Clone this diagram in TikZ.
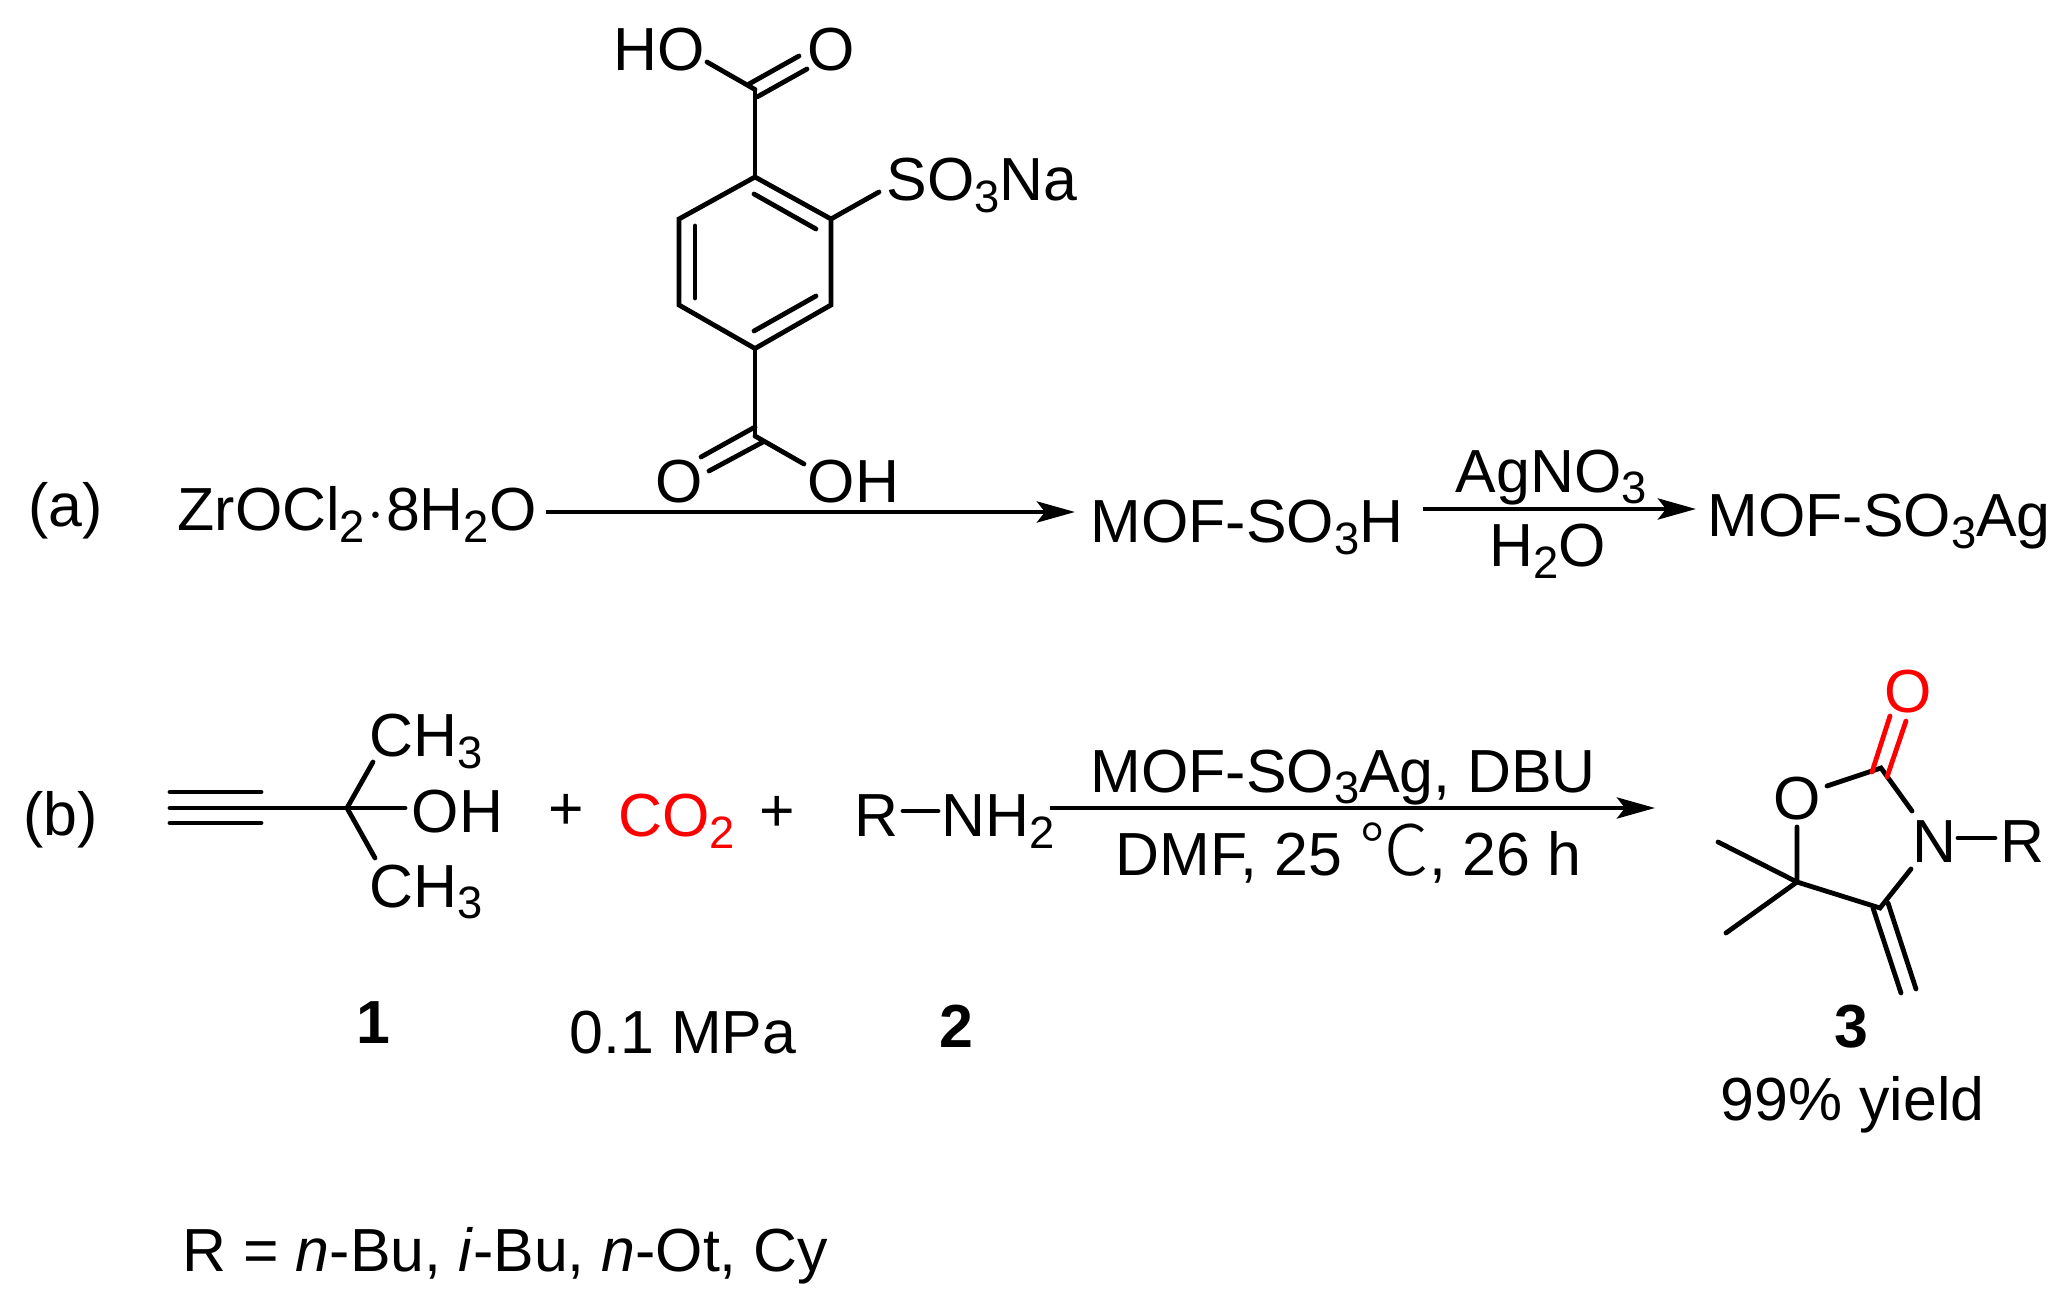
\documentclass[tikz,border=0pt]{standalone}
\usepackage{fontspec}
\setmainfont{Liberation Sans}
\newfontfamily\cjk[Scale=1.15]{Noto Sans CJK SC Light}
\usetikzlibrary{arrows.meta}
\newcommand{\low}[1]{\raisebox{-0.11cm}{\fontsize{12.9}{14}\selectfont #1}}
\tikzset{
	txt/.style={inner sep=0, font=\fontsize{17.3}{20}\selectfont},
	lab/.style={txt, anchor=base west, xshift=-0.03cm},
	labc/.style={txt, anchor=base},
	numlab/.style={labc, font=\fontsize{17.3}{20}\selectfont\bfseries},
	bond/.style={line width=0.048cm, line cap=round},
	redbond/.style={bond, color=red},
	rxn/.style={line width=0.048cm, -{Stealth[length=0.38cm, width=0.21cm, inset=0.08cm]}}
}
\begin{document}
\begin{tikzpicture}[x=0.01cm, y=-0.01cm]
	\useasboundingbox (0, 0) rectangle (2071, 1300);
	%%%%% PART A %%%%%
	
	\node[lab] (laba) at (31, 527) {(a)};
	\node[lab] (zr) at (180, 531) {ZrOCl\low{2}\kern0.02cm$\cdot$\kern0.02cm8H\low{2}O};
	\node[lab] (mofh) at (1093, 543) {MOF-SO\low{3}H};
	\node[lab] (agno) at (1458, 492) {AgNO\low{3}};
	\node[lab] (water) at (1492, 567) {H\low{2}O};
	\node[lab] (mofag) at (1710, 537) {MOF-SO\low{3}Ag};
	
	\coordinate (linea) at (0, 512);
	\coordinate (lineb) at (0, 509);
	\draw[rxn] ([xshift=0.09cm]zr.east |- linea) -- ([xshift=-0.15cm]mofh.west |- linea);
	\draw[rxn] ([xshift=0.19cm]mofh.east |- lineb) -- ([xshift=-0.11cm]mofag.west |- lineb);
	
	\node[lab] (ho) at (616, 71) {HO};
	\node[lab] (otop) at (810, 71) {O};
	\node[lab] (sona) at (889, 201) {SO\low{3}Na};
	\node[lab] (obot) at (658, 503) {O};
	\node[lab] (oh) at (810, 503) {OH};
	
	\coordinate (ctop) at (755, 89.5);
	\coordinate (r1) at (755, 177);
	\coordinate (r2) at (831, 219);
	\coordinate (r3) at (831, 305);
	\coordinate (r4) at (755, 348.5);
	\coordinate (r5) at (679, 305);
	\coordinate (r6) at (679, 219);
	\coordinate (cbot) at (755, 436);
	
	\draw[bond] (r1) -- (r2) -- (r3) -- (r4) -- (r5) -- (r6) -- cycle;
	\draw[bond] (ctop) -- (r1);
	\draw[bond] (r4) -- (cbot);
	\draw[bond] (754, 194) -- (816, 229);
	\draw[bond] (816, 296) -- (754, 331);
	\draw[bond] (695, 226) -- (695, 298);
	\draw[bond] (r2) -- (879, 192);
	
	\draw[bond] (ctop) -- (707, 62);
	\draw[bond] (749, 84) -- (799, 56);
	\draw[bond] (757, 97) -- (807, 69);
	\draw[bond] (cbot) -- (804, 464);
	\draw[bond] (755, 427) -- (701, 457);
	\draw[bond] (763, 442) -- (709, 471);
	
	%%%%% PART B %%%%%
	
	\node[lab] (labb) at (26, 835) {(b)};
	\node[lab] (chup) at (372, 757) {CH\low{3}};
	\node[lab] (ohb) at (414, 832) {OH};
	\node[lab] (chdn) at (372, 907) {CH\low{3}};
	\node[labc] (plusa) at (566, 830) {+};
	\node[lab, color=red] (co) at (621, 837) {CO\low{2}};
	\node[labc] (plusb) at (777, 831) {+};
	\node[lab] (rgrp) at (857, 837) {R};
	\node[lab] (nh) at (944, 837) {NH\low{2}};
	
	\node[numlab] (numa) at (373, 1043) {1};
	\node[lab] (mpa) at (572, 1053) {0.1 MPa};
	\node[numlab] (numb) at (956, 1047) {2};
	
	\coordinate (cq) at (347, 808);
	\draw[bond] (170, 792) -- (261, 792);
	\draw[bond] (170, 808) -- (cq);
	\draw[bond] (170, 823) -- (261, 823);
	\draw[bond] (cq) -- (405, 808);
	\draw[bond] (cq) -- (373, 762);
	\draw[bond] (cq) -- (375, 858);
	\draw[bond] (903, 811) -- (938, 811);
	
	\node[lab] (reaga) at (1093, 792) {MOF-SO\low{3}Ag, DBU};
	\node[lab] (reagb) at (1118, 876) {DMF, 25 {\cjk ℃}, 26 h};
	\coordinate (arrs) at (1050, 808);
	\coordinate (arre) at (1655, 808);
	\draw[rxn] (arrs) -- (arre);
	
	\node[labc, color=red] (ored) at (1908, 712) {O};
	\node[labc] (oring) at (1797, 819) {O};
	\node[lab] (nring) at (1915, 862) {N};
	\node[lab] (rring) at (2003, 862) {R};
	\node[numlab] (numc) at (1851, 1047) {3};
	\node[lab] (yield) at (1723, 1120) {99\% yield};
	
	\coordinate (ctwo) at (1881, 768);
	\coordinate (cfour) at (1880, 908);
	\coordinate (cfive) at (1797, 882);
	\draw[bond] (1827, 786) -- (ctwo) -- (1912, 811);
	\draw[bond] (1911, 869) -- (cfour) -- (cfive) -- (1797, 827);
	\draw[bond] (cfive) -- (1718, 842);
	\draw[bond] (cfive) -- (1726, 933);
	\draw[bond] (1958, 838) -- (1995, 838);
	\draw[bond] (1873, 908) -- (1901, 993);
	\draw[bond] (1888, 903) -- (1916, 989);
	\draw[redbond] (1890, 716) -- (1872, 772);
	\draw[redbond] (1906, 721) -- (1887, 777);
	
	\node[lab] (rlist) at (185, 1271) {R = \textit{n}-Bu, \textit{i}-Bu, \textit{n}-Ot, Cy};
	
	%%%%% END %%%%%
\end{tikzpicture}
\end{document}
